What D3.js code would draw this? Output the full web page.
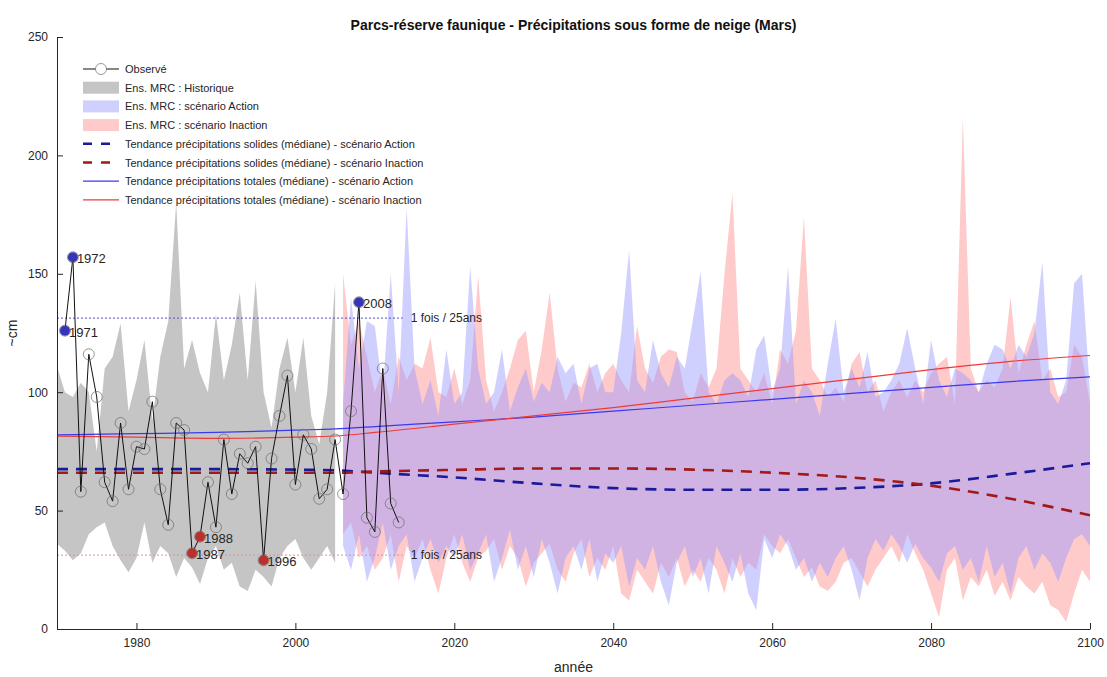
<!DOCTYPE html>
<html>
<head>
<meta charset="utf-8">
<script src="https://cdn.jsdelivr.net/npm/d3@7/dist/d3.min.js"></script>
<style>
  html, body { margin: 0; padding: 0; background: #fff; }
  svg { display: block; font-family: "Liberation Sans", Arial, sans-serif; }
</style>
</head>
<body>
<svg id="chart" width="1107" height="677"></svg>
<script>
// ---------------- DATA ----------------
const title = "Parcs-réserve faunique - Précipitations sous forme de neige (Mars)";
const xLabel = "année";
const yLabel = "~cm";
const xTicks = [1980, 2000, 2020, 2040, 2060, 2080, 2100];
const yTicks = [0, 50, 100, 150, 200, 250];

// Observed March snowfall 1971-2013
const obsYears = d3.range(1971, 2014);
const obsValues = [126, 157, 58, 116, 98, 62, 54, 87, 59, 77, 76, 96, 59, 44, 87, 84,
  32, 39, 62, 43, 80, 57, 74, 70, 77, 29, 72, 90, 107, 61, 82, 76, 55, 59, 80, 57,
  92, 138, 47, 41, 110, 53, 45];

// Highlighted extremes
const highYears = [1971, 1972, 2008];
const lowYears = [1987, 1988, 1996];

// Return levels (1 time / 25 years)
const returnHigh = 131.3;
const returnLow = 31.2;
const returnLabel = "1 fois / 25ans";

// Historical ensemble band 1970-2005
const histYears = d3.range(1970, 2006);
const histUpper = [111, 100, 98, 104, 100, 75, 110, 115, 129, 92, 105, 122, 88, 115, 130, 180,
  110, 122, 108, 100, 133, 105, 120, 142, 105, 147, 100, 85, 110, 123, 100, 123, 90, 78, 100, 146];
const histLower = [36, 33, 29, 32, 40, 43, 45, 35, 29, 24, 30, 45, 28, 35, 32, 22,
  30, 26, 19, 30, 35, 25, 28, 18, 16, 25, 22, 18, 30, 35, 38, 30, 25, 30, 35, 28];

// Future ensemble bands 2006-2100
const futYears = d3.range(2006, 2101);
const actionUpper = [95, 140, 110, 130, 128, 100, 150, 100, 178, 110, 95, 105, 90, 118, 95, 100,
  153, 110, 95, 100, 118, 92, 102, 110, 96, 104, 100, 115, 108, 112, 95, 110, 112, 100, 100, 125,
  160, 105, 100, 122, 108, 102, 115, 110, 130, 151, 100, 95, 105, 108, 105, 98, 118, 124, 100, 110,
  153, 95, 105, 100, 90, 112, 131, 100, 110, 102, 117, 98, 100, 105, 112, 127, 110, 95, 122, 105,
  98, 110, 108, 105, 100, 112, 120, 118, 110, 120, 115, 125, 155, 100, 95, 105, 146, 150, 100];
const actionLower = [35, 25, 40, 20, 30, 45, 25, 35, 40, 20, 30, 38, 28, 35, 30, 40,
  25, 32, 40, 20, 30, 42, 25, 35, 22, 38, 28, 15, 30, 35, 25, 38, 20, 32, 28, 35,
  18, 30, 25, 35, 20, 10, 28, 35, 22, 30, 15, 35, 28, 20, 32, 15, 8, 38, 30, 40,
  35, 25, 30, 20, 28, 22, 30, 35, 25, 12, 30, 38, 33, 40, 35, 28, 36, 30, 26, 20,
  32, 35, 25, 30, 20, 35, 22, 28, 15, 30, 35, 25, 32, 28, 20, 30, 38, 40, 35];
const inactionUpper = [150, 120, 130, 115, 100, 110, 95, 115, 105, 112, 110, 123, 100, 98, 110, 95,
  105, 149, 105, 92, 100, 110, 122, 126, 100, 118, 142, 110, 96, 104, 102, 112, 100, 108, 112, 105,
  100, 128, 110, 104, 115, 118, 117, 100, 96, 108, 102, 110, 150, 184, 110, 105, 100, 108, 95, 118,
  112, 126, 174, 110, 105, 98, 102, 96, 112, 117, 100, 105, 92, 100, 105, 98, 105, 100, 108, 112,
  115, 95, 216, 110, 100, 105, 102, 110, 140, 108, 120, 130, 105, 110, 98, 100, 120, 115, 95];
const inactionLower = [40, 45, 30, 35, 25, 30, 40, 20, 35, 30, 38, 25, 15, 30, 40, 28,
  20, 30, 33, 38, 25, 35, 30, 18, 28, 32, 36, 25, 20, 32, 38, 22, 30, 25, 35, 15,
  12, 25, 20, 15, 28, 22, 30, 18, 25, 20, 30, 25, 15, 30, 22, 28, 25, 40, 35, 32,
  38, 30, 22, 26, 18, 16, 20, 28, 30, 24, 18, 25, 30, 35, 28, 40, 32, 25, 15, 5,
  25, 30, 12, 22, 18, 25, 14, 20, 12, 22, 18, 15, 20, 10, 8, 3, 15, 25, 20];

// Median trends
const trendYears = [1970, 1980, 1990, 2000, 2005, 2010, 2020, 2030, 2040, 2050, 2060, 2070, 2080, 2090, 2100];
const totalAction = [82, 82.5, 83, 84, 84.5, 85.5, 87.5, 89.5, 92, 94.5, 97, 99.5, 102, 104.5, 106.5];
const totalInaction = [81.5, 81, 80.5, 81, 81.5, 83, 86.5, 90, 93.5, 97.5, 101.5, 105.5, 109.5, 113, 115.5];
const solidAction = [67.5, 67.5, 67.5, 67.3, 67, 66, 64, 61.5, 59.5, 58.8, 58.8, 59.5, 61.5, 65.5, 70];
const solidInaction = [66, 66, 66, 66, 66, 66.5, 67.2, 67.8, 67.8, 67.3, 66, 64, 60.5, 55, 48];

const legendLabels = [
  "Observé",
  "Ens. MRC : Historique",
  "Ens. MRC : scénario Action",
  "Ens. MRC : scénario Inaction",
  "Tendance précipitations solides (médiane) - scénario Action",
  "Tendance précipitations solides (médiane) - scénario Inaction",
  "Tendance précipitations totales (médiane) - scénario Action",
  "Tendance précipitations totales (médiane) - scénario Inaction"
];

// ---------------- STYLE ----------------
const C = {
  text: "#262626",
  grey: "rgba(150,150,150,0.55)",
  blueBand: "rgba(150,150,255,0.45)",
  pinkBand: "rgba(255,150,150,0.5)",
  solidBlue: "#1a1a9a",
  solidRed: "#a01a1a",
  totBlue: "#3a3af0",
  totRed: "#f03a3a",
  hiDot: "#3535b5",
  loDot: "#b83030"
};

const svg = d3.select("#chart");
const x = d3.scaleLinear().domain([1970, 2100]).range([57, 1090]);
const y = d3.scaleLinear().domain([0, 250]).range([629, 37]);

// Bands
const area = (ys, up, lo) => d3.area()
  .x((d, i) => x(ys[i])).y0((d, i) => y(lo[i])).y1((d, i) => y(up[i]))(ys);

svg.append("path").attr("d", area(histYears, histUpper, histLower)).attr("fill", C.grey);
svg.append("path").attr("d", area(futYears, inactionUpper, inactionLower)).attr("fill", C.pinkBand);
svg.append("path").attr("d", area(futYears, actionUpper, actionLower)).attr("fill", C.blueBand);

// Return level lines
svg.append("line").attr("x1", x(1970)).attr("x2", x(2013.5))
  .attr("y1", y(returnHigh)).attr("y2", y(returnHigh))
  .attr("stroke", "#5050c8").attr("stroke-width", 1).attr("stroke-dasharray", "2,2");
svg.append("line").attr("x1", x(1970)).attr("x2", x(2013.5))
  .attr("y1", y(returnLow)).attr("y2", y(returnLow))
  .attr("stroke", "#e09090").attr("stroke-width", 1).attr("stroke-dasharray", "2,2");
[returnHigh, returnLow].forEach(v => {
  svg.append("text").attr("x", x(2013.5) + 8).attr("y", y(v) + 4)
    .attr("font-size", 12).attr("fill", C.text).text(returnLabel);
});

// Trend lines
const trendLine = vals => d3.line().curve(d3.curveMonotoneX)
  .x((d, i) => x(trendYears[i])).y((d, i) => y(vals[i]))(trendYears);
svg.append("path").attr("d", trendLine(totalAction)).attr("fill", "none")
  .attr("stroke", C.totBlue).attr("stroke-width", 1.2);
svg.append("path").attr("d", trendLine(totalInaction)).attr("fill", "none")
  .attr("stroke", C.totRed).attr("stroke-width", 1.2);
svg.append("path").attr("d", trendLine(solidAction)).attr("fill", "none")
  .attr("stroke", C.solidBlue).attr("stroke-width", 2.6).attr("stroke-dasharray", "11,8");
svg.append("path").attr("d", trendLine(solidInaction)).attr("fill", "none")
  .attr("stroke", C.solidRed).attr("stroke-width", 2.6).attr("stroke-dasharray", "11,8");

// Observed
svg.append("path")
  .attr("d", d3.line().x((d, i) => x(obsYears[i])).y(d => y(d))(obsValues))
  .attr("fill", "none").attr("stroke", "#111").attr("stroke-width", 1);
svg.append("g").selectAll("circle").data(obsValues).join("circle")
  .attr("cx", (d, i) => x(obsYears[i])).attr("cy", d => y(d)).attr("r", 5.5)
  .attr("fill", "none").attr("stroke", "#6a6a6a").attr("stroke-width", 0.7);

const extreme = (yrs, col) => {
  yrs.forEach(yr => {
    const v = obsValues[obsYears.indexOf(yr)];
    svg.append("circle").attr("cx", x(yr)).attr("cy", y(v)).attr("r", 5).attr("fill", col);
    svg.append("text").attr("x", x(yr) + 4).attr("y", y(v) + 6)
      .attr("font-size", 13).attr("fill", C.text).text(yr);
  });
};
extreme(highYears, C.hiDot);
extreme(lowYears, C.loDot);

// Axes
const xAxis = svg.append("g").attr("transform", `translate(0,${y(0)})`)
  .call(d3.axisBottom(x).tickValues(xTicks).tickFormat(d3.format("d"))
    .tickSizeInner(-6).tickSizeOuter(0).tickPadding(9));
const yAxis = svg.append("g").attr("transform", `translate(${x(1970)},0)`)
  .call(d3.axisLeft(y).tickValues(yTicks).tickSizeInner(-6).tickSizeOuter(0).tickPadding(9));
[xAxis, yAxis].forEach(g => {
  g.selectAll("path, line").attr("stroke", C.text);
  g.selectAll("text").attr("fill", C.text).attr("font-size", 12)
    .attr("font-family", "'Liberation Sans', Arial, sans-serif");
});

// Titles
svg.append("text").attr("x", (x(1970) + x(2100)) / 2).attr("y", 30)
  .attr("text-anchor", "middle").attr("font-weight", "bold").attr("font-size", 14)
  .attr("fill", "#111").text(title);
svg.append("text").attr("x", (x(1970) + x(2100)) / 2).attr("y", 672)
  .attr("text-anchor", "middle").attr("font-size", 14).attr("fill", C.text).text(xLabel);
svg.append("text").attr("transform", `translate(17,${(y(0) + y(250)) / 2}) rotate(-90)`)
  .attr("text-anchor", "middle").attr("font-size", 14).attr("fill", C.text).text(yLabel);

// Legend
const lg = svg.append("g").attr("transform", "translate(83,69)");
const rowH = 18.7;
legendLabels.forEach((lab, i) => {
  const g = lg.append("g").attr("transform", `translate(0,${i * rowH})`);
  if (i === 0) {
    g.append("line").attr("x1", 0).attr("x2", 36).attr("stroke", "#111");
    g.append("circle").attr("cx", 18).attr("r", 5.5).attr("fill", "#fff")
      .attr("stroke", "#6a6a6a").attr("stroke-width", 0.7);
  } else if (i <= 3) {
    const f = [C.grey, C.blueBand, C.pinkBand][i - 1];
    g.append("rect").attr("x", 0).attr("y", -6).attr("width", 36).attr("height", 12).attr("fill", f);
  } else if (i <= 5) {
    g.append("line").attr("x1", 0).attr("x2", 36)
      .attr("stroke", i === 4 ? C.solidBlue : C.solidRed).attr("stroke-width", 2.6)
      .attr("stroke-dasharray", "9,9");
  } else {
    g.append("line").attr("x1", 0).attr("x2", 36)
      .attr("stroke", i === 6 ? C.totBlue : C.totRed).attr("stroke-width", 1.2);
  }
  g.append("text").attr("x", 42).attr("y", 4).attr("font-size", 11)
    .attr("fill", C.text).text(lab);
});
</script>
</body>
</html>
